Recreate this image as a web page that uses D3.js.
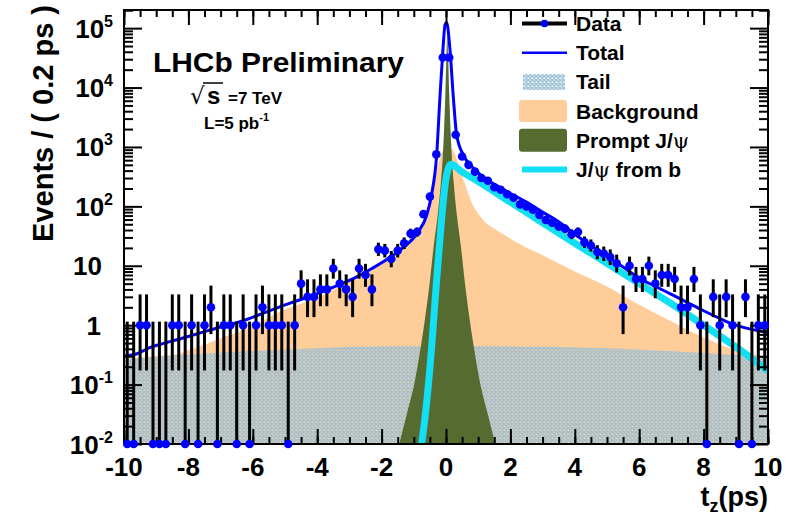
<!DOCTYPE html>
<html><head><meta charset="utf-8">
<script src="https://cdn.jsdelivr.net/npm/d3@7"></script>
<style>
html,body{margin:0;padding:0;background:#fff;}
svg{display:block;font-family:"Liberation Sans",Arial,Helvetica,sans-serif;font-weight:bold;}
</style></head><body>
<svg id="chart" width="794" height="518"></svg>
<script>
// ---- binned data: events per 0.2 ps bin, t_z from -10 to 10 ps ----
const binWidth = 0.2;
const binCenters = d3.range(100).map(i => -9.9 + binWidth * i);
const counts = [
  0, 0, 1, 1, 0, 0, 0, 1, 1, 0,
  1, 0, 1, 2, 0, 1, 1, 0, 1, 0,
  1, 2, 1, 1, 1, 0, 1, 5, 3, 3,
  4, 4, 9, 5, 4, 3, 9, 7, 4, 19,
  18, 13, 18, 24, 35, 37, 74, 146, 750, 32000,
  32000, 1600, 690, 500, 385, 300, 270, 210, 190, 160,
  140, 108, 100, 88, 72, 59, 53, 46, 42, 34,
  37, 25, 22, 17, 16, 14, 11, 2, 10, 6,
  6, 10, 5, 7, 7, 6, 2, 2, 6, 1,
  0, 3, 1, 3, 1, 0, 3, 0, 1, 1
];

// ---- fit components, [t_z, events per bin] ----
const totalCurve = [
  [-10, 0.3], [-9.6, 0.33], [-9.2, 0.42], [-8.8, 0.49], [-8.3, 0.58], [-7.9, 0.67],
  [-7.5, 0.78], [-7, 0.93], [-6.4, 1.14], [-5.8, 1.5], [-5.2, 2.0], [-4.6, 2.6],
  [-4, 3.4], [-3.4, 4.6], [-2.8, 6.4], [-2.3, 9], [-1.7, 14.3], [-1.37, 19.5],
  [-0.86, 37.6], [-0.6, 71], [-0.45, 156], [-0.29, 730], [-0.19, 6600], [-0.1, 40000],
  [-0.03, 114000], [0.02, 125000], [0.12, 46000], [0.23, 6600], [0.33, 1600], [0.54, 730],
  [0.8, 470], [1.2, 300], [1.6, 220], [2.0, 165], [2.5, 118], [3.0, 80], [3.5, 55],
  [4.0, 34], [4.5, 22], [5.0, 14.5], [5.5, 9.5], [6.0, 6.2], [6.5, 4.5], [7.0, 3.3],
  [7.5, 2.4], [8.0, 1.75], [8.5, 1.3], [9.0, 1.0], [9.5, 0.85], [10, 0.75]
];
// background is drawn stacked on top of the tail component
const backgroundCurve = [
  [-10, 0.27], [-9, 0.3], [-8.4, 0.32], [-8.0, 0.38], [-7.5, 0.47], [-7, 0.6],
  [-6.4, 0.78], [-5.8, 1.1], [-5.2, 1.65], [-4.6, 2.2], [-4, 2.9], [-3.4, 4.2],
  [-2.8, 5.8], [-2.3, 8.4], [-1.7, 13.5], [-1.37, 18.5], [-0.86, 36], [-0.6, 68],
  [-0.45, 140], [-0.3, 380], [-0.15, 750], [0.05, 1050], [0.2, 900], [0.35, 600],
  [0.5, 330], [0.65, 190], [0.8, 115], [1.0, 75], [1.2, 55], [1.5, 42], [1.7, 36],
  [2.3, 23], [3, 15], [4, 8], [5, 4.5], [6, 2.2], [7, 1.15], [8, 0.62], [9, 0.38], [10, 0.29]
];
const tailCurve = [
  [-10, 0.27], [-8, 0.32], [-6, 0.37], [-4, 0.41], [-2, 0.44], [0, 0.45],
  [2, 0.44], [4, 0.42], [6, 0.39], [8, 0.34], [10, 0.29]
];
const promptCurve = [
  [-1.56, 0.006], [-1.21, 0.033], [-0.96, 0.12], [-0.81, 0.35], [-0.66, 1.2], [-0.51, 5],
  [-0.38, 22], [-0.26, 70], [-0.16, 250], [-0.10, 700], [-0.06, 2000], [-0.02, 8000],
  [0.01, 30000], [0.04, 80000], [0.07, 30000], [0.10, 8000], [0.14, 2000], [0.18, 700],
  [0.24, 250], [0.34, 70], [0.46, 22], [0.59, 5], [0.74, 1.2], [0.89, 0.35],
  [1.04, 0.12], [1.29, 0.033], [1.64, 0.006]
];
const fromBCurve = [
  [-0.78, 0.008], [-0.6, 0.05], [-0.45, 0.4], [-0.3, 5], [-0.15, 50], [-0.02, 250],
  [0.08, 450], [0.15, 510], [0.5, 380], [1, 262], [2, 118], [3, 53], [4, 24],
  [5, 11], [6, 5], [7, 2.3], [8, 1.0], [9, 0.43], [10, 0.17]
];

// ---- axis ticks and labels ----
const xMajorTicks = [-10, -8, -6, -4, -2, 0, 2, 4, 6, 8, 10];
const xMinorTicks = d3.range(-20, 21).map(k => k / 2);
const yDecades = [-2, -1, 0, 1, 2, 3, 4, 5];
const legendLabels = ["Data", "Total", "Tail", "Background", "Prompt J/", "J/"];

// Poisson 68% intervals for small counts (zero bins use 1.147 upper edge)
const poissonTable = {
  0: [0, 1.147], 1: [0.173, 3.30], 2: [0.708, 4.638], 3: [1.367, 5.918], 4: [2.086, 7.163],
  5: [2.840, 8.382], 6: [3.620, 9.584], 7: [4.419, 10.77], 8: [5.232, 11.95],
  9: [6.057, 13.11], 10: [6.891, 14.27]
};
function interval(n) {
  if (poissonTable[n]) return poissonTable[n];
  return [n - Math.sqrt(n - 0.25), n + 1 + Math.sqrt(n + 0.75)];
}

// ---- layout ----
const X0 = 124, X1 = 768, Y0 = 444, Y1 = 10;
const svg = d3.select("#chart");
const x = d3.scaleLinear().domain([-10, 10]).range([X0, X1]);
const y = d3.scaleLog().domain([0.01, 2.02e5]).range([Y0, Y1]);

const colors = {
  bkg: "#fecd99", prompt: "#556b2f", fromB: "#12def4", total: "#0000ff",
  marker: "#0000ff", hatch: "#9cc0d6"
};

const defs = svg.append("defs");
defs.append("clipPath").attr("id", "frameClip")
  .append("rect").attr("x", X0).attr("y", Y1).attr("width", X1 - X0).attr("height", Y0 - Y1);
const pat = defs.append("pattern").attr("id", "tailHatch")
  .attr("width", 4).attr("height", 4).attr("patternUnits", "userSpaceOnUse");
pat.append("path").attr("d", "M0,0 L4,4 M4,0 L0,4")
  .attr("stroke", colors.hatch).attr("stroke-width", 1.5).attr("fill", "none");

const plot = svg.append("g").attr("clip-path", "url(#frameClip)");
const area = d3.area().x(d => x(d[0])).y0(y(0.001)).y1(d => y(d[1])).curve(d3.curveMonotoneX);
const line = d3.line().x(d => x(d[0])).y(d => y(d[1])).curve(d3.curveMonotoneX);

plot.append("path").attr("d", area(backgroundCurve)).attr("fill", colors.bkg);
plot.append("path").attr("d", area(tailCurve)).attr("fill", "url(#tailHatch)");
plot.append("path").attr("d", area(promptCurve)).attr("fill", colors.prompt);
plot.append("path").attr("d", line(fromBCurve)).attr("fill", "none")
  .attr("stroke", colors.fromB).attr("stroke-width", 7);
plot.append("path").attr("d", line(totalCurve)).attr("fill", "none")
  .attr("stroke", colors.total).attr("stroke-width", 3);

// ---- frame and ticks (inside, on all four sides) ----
const axes = svg.append("g").attr("class", "axes");
function styleAxis(g) {
  g.select(".domain").remove();
  g.selectAll(".tick line").attr("stroke", "#000").attr("stroke-width", 2);
  g.selectAll(".tick text").remove();
}
axes.append("g").attr("transform", `translate(0,${Y0})`)
  .call(d3.axisBottom(x).tickValues(xMinorTicks).tickSize(-7)).call(styleAxis);
axes.append("g").attr("transform", `translate(0,${Y0})`)
  .call(d3.axisBottom(x).tickValues(xMajorTicks).tickSize(-15)).call(styleAxis);
axes.append("g").attr("transform", `translate(0,${Y1})`)
  .call(d3.axisTop(x).tickValues(xMinorTicks).tickSize(-7)).call(styleAxis);
axes.append("g").attr("transform", `translate(0,${Y1})`)
  .call(d3.axisTop(x).tickValues(xMajorTicks).tickSize(-15)).call(styleAxis);

const yMajor = yDecades.map(d => Math.pow(10, d));
const yMinor = [];
yDecades.forEach(d => { for (let k = 2; k <= 9; k++) { const v = k * Math.pow(10, d); if (v <= 2.02e5) yMinor.push(v); } });
axes.append("g").attr("transform", `translate(${X0},0)`)
  .call(d3.axisLeft(y).tickValues(yMinor).tickSize(-9)).call(styleAxis);
axes.append("g").attr("transform", `translate(${X0},0)`)
  .call(d3.axisLeft(y).tickValues(yMajor).tickSize(-18)).call(styleAxis);
axes.append("g").attr("transform", `translate(${X1},0)`)
  .call(d3.axisRight(y).tickValues(yMinor).tickSize(-9)).call(styleAxis);
axes.append("g").attr("transform", `translate(${X1},0)`)
  .call(d3.axisRight(y).tickValues(yMajor).tickSize(-18)).call(styleAxis);

axes.append("rect").attr("x", X0).attr("y", Y1).attr("width", X1 - X0).attr("height", Y0 - Y1)
  .attr("fill", "none").attr("stroke", "#000").attr("stroke-width", 2);

// ---- data: error bars and markers ----
const dataG = svg.append("g");
const pts = binCenters.map((t, i) => ({ t, n: counts[i], iv: interval(counts[i]) }));
dataG.selectAll("line.err").data(pts).join("line").attr("class", "err")
  .attr("x1", d => x(d.t)).attr("x2", d => x(d.t))
  .attr("y1", d => d.n === 0 ? Y0 : y(d.iv[0]))
  .attr("y2", d => y(d.iv[1]))
  .attr("stroke", "#000").attr("stroke-width", 3);
dataG.selectAll("circle.pt").data(pts).join("circle").attr("class", "pt")
  .attr("cx", d => x(d.t)).attr("cy", d => d.n === 0 ? Y0 : y(d.n))
  .attr("r", 4.3).attr("fill", colors.marker);

// ---- tick labels ----
const lab = svg.append("g").attr("fill", "#000");
lab.selectAll("text.xl").data(xMajorTicks).join("text").attr("class", "xl")
  .attr("x", d => x(d)).attr("y", 476).attr("text-anchor", "middle")
  .attr("font-size", 26).text(d => String(d).replace("\u2212", "-"));

yDecades.forEach(d => {
  const v = Math.pow(10, d);
  const t = lab.append("text").attr("text-anchor", "end").attr("font-size", 26)
    .attr("y", y(v) + 9.5);
  if (d === 0) { t.attr("x", 101).text("1"); }
  else if (d === 1) { t.attr("x", 102).text("10"); }
  else {
    t.attr("x", 113);
    t.append("tspan").text("10");
    t.append("tspan").attr("dy", -11).attr("font-size", 16).text(String(d));
  }
});

// axis titles
lab.append("text").attr("transform", "translate(53,5) rotate(-90)")
  .attr("text-anchor", "end").attr("font-size", 29).text("Events / ( 0.2 ps )");
const xt = lab.append("text").attr("x", 768).attr("y", 506).attr("text-anchor", "end").attr("font-size", 27);
xt.append("tspan").text("t");
xt.append("tspan").attr("dy", 6).attr("font-size", 18).text("z");
xt.append("tspan").attr("dy", -6).text("(ps)");

// ---- annotations ----
lab.append("text").attr("x", 153).attr("y", 72).attr("font-size", 28)
  .attr("textLength", 251).attr("lengthAdjust", "spacingAndGlyphs").text("LHCb Preliminary");
lab.append("text").attr("x", 190).attr("y", 104).attr("font-size", 23)
  .attr("font-family", "DejaVu Sans").attr("font-weight", "normal").text("\u221A");
lab.append("line").attr("x1", 203).attr("x2", 223).attr("y1", 83).attr("y2", 83)
  .attr("stroke", "#000").attr("stroke-width", 1.5);
lab.append("text").attr("x", 207).attr("y", 104).attr("font-size", 24).text("s");
lab.append("text").attr("x", 228).attr("y", 104).attr("font-size", 17).text("=7 TeV");
const lum = lab.append("text").attr("x", 204).attr("y", 129).attr("font-size", 17);
lum.append("tspan").text("L=5 pb");
lum.append("tspan").attr("dy", -8).attr("font-size", 11).text("-1");

// ---- legend ----
const legY = i => 23.5 + 29.2 * i;
const leg = svg.append("g");
// Data
leg.append("rect").attr("x", 522).attr("y", legY(0) - 2).attr("width", 45).attr("height", 4).attr("fill", "#000");
leg.append("circle").attr("cx", 544.5).attr("cy", legY(0)).attr("r", 3.8).attr("fill", colors.marker);
// Total
leg.append("line").attr("x1", 522).attr("x2", 567).attr("y1", legY(1)).attr("y2", legY(1))
  .attr("stroke", colors.total).attr("stroke-width", 2.5);
// Tail
leg.append("rect").attr("x", 523).attr("y", legY(2) - 8).attr("width", 42).attr("height", 16)
  .attr("fill", "url(#tailHatch)");
// Background
leg.append("rect").attr("x", 519).attr("y", legY(3) - 11).attr("width", 48).attr("height", 22)
  .attr("rx", 3).attr("fill", colors.bkg);
// Prompt
leg.append("rect").attr("x", 519).attr("y", legY(4) - 11.5).attr("width", 48).attr("height", 23)
  .attr("rx", 3).attr("fill", colors.prompt);
// from b
leg.append("line").attr("x1", 522).attr("x2", 567).attr("y1", legY(5)).attr("y2", legY(5))
  .attr("stroke", colors.fromB).attr("stroke-width", 6);

legendLabels.forEach((s, i) => {
  const t = leg.append("text").attr("x", 576).attr("y", legY(i) + 7.5).attr("font-size", 21);
  if (i === 4) {
    t.append("tspan").text(s);
    t.append("tspan").attr("font-family", "DejaVu Serif").attr("font-weight", "normal").text("\u03C8");
  } else if (i === 5) {
    t.append("tspan").text(s);
    t.append("tspan").attr("font-family", "DejaVu Serif").attr("font-weight", "normal").text("\u03C8");
    t.append("tspan").text(" from b");
  } else {
    t.text(s);
  }
});
</script>
</body></html>
